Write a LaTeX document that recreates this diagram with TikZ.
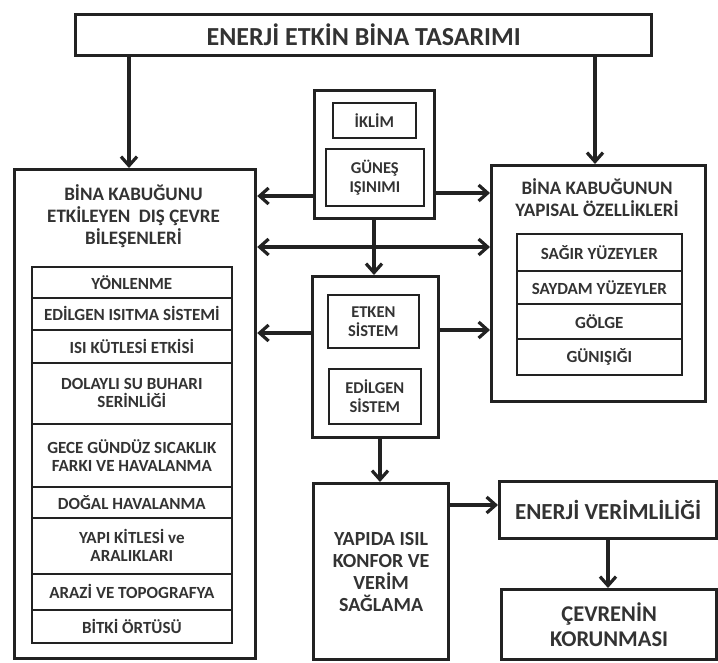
\documentclass[tikz,border=0pt]{standalone}
\usepackage{fontspec}
\setmainfont{Carlito}
\usetikzlibrary{arrows.meta}
\definecolor{ink}{HTML}{222222}
\definecolor{txt}{HTML}{333333}

% box placed by its top-left and bottom-right corners (in px units)
\newcommand{\placebox}[7]{%
  \node[#1, anchor=north west, minimum width={(#5-#3)*1pt},
        minimum height={(#6-#4)*1pt}] (#2) at (#3,#4) {#7};}

\begin{document}
\begin{tikzpicture}[x=1pt,y=-1pt,
  outerbox/.style={draw=ink, line width=3.2pt, inner sep=0pt, align=center, text=txt},
  innerbox/.style={draw=ink, line width=1.7pt, inner sep=0pt, align=center, text=txt,
                   font=\bfseries\fontsize{16.5}{19}\selectfont},
  rowbox/.style={innerbox, font=\bfseries\fontsize{17}{18}\selectfont},
  headtext/.style={align=center, text=txt, inner sep=0pt,
                   font=\bfseries\fontsize{19}{22}\selectfont},
  tip/.tip={Straight Barb[length=9pt,width=16pt]},
  conn/.style={draw=ink, line width=3.2pt, -tip},
  twoway/.style={draw=ink, line width=3.2pt, tip-tip}
]
\fill[white] (0,0) rectangle (718,662);
\useasboundingbox (0,0) rectangle (718,662);

% title
\placebox{outerbox, font=\bfseries\fontsize{26}{30}\selectfont}{top}{74}{13}{650}{54}{ENERJİ ETKİN BİNA TASARIMI}

% left column: outer environment components
\placebox{outerbox}{left}{13}{168}{254}{657}{}
\node[headtext] (lefthead) at (133.5,216) {BİNA KABUĞUNU\\ETKİLEYEN\ \ DIŞ ÇEVRE\\BİLEŞENLERİ};
\placebox{rowbox}{r1}{31}{266}{231}{297}{YÖNLENME}
\placebox{rowbox}{r2}{31}{297}{231}{329}{EDİLGEN ISITMA SİSTEMİ}
\placebox{rowbox}{r3}{31}{329}{231}{362}{ISI KÜTLESİ ETKİSİ}
\placebox{rowbox}{r4}{31}{362}{231}{423}{DOLAYLI SU BUHARI\\SERİNLİĞİ}
\placebox{rowbox}{r5}{31}{423}{231}{486}{GECE GÜNDÜZ SICAKLIK\\FARKI VE HAVALANMA}
\placebox{rowbox}{r6}{31}{486}{231}{517}{DOĞAL HAVALANMA}
\placebox{rowbox}{r7}{31}{517}{231}{573}{YAPI KİTLESİ ve\\ARALIKLARI}
\placebox{rowbox}{r8}{31}{573}{231}{609}{ARAZİ VE TOPOGRAFYA}
\placebox{rowbox}{r9}{31}{609}{231}{642}{BİTKİ ÖRTÜSÜ}

% middle column: climate and systems
\placebox{outerbox}{mid1}{313}{89}{433}{217}{}
\placebox{innerbox}{iklim}{332}{102}{415}{137}{İKLİM}
\placebox{innerbox}{gunes}{325}{148}{423}{205}{GÜNEŞ\\IŞINIMI}
\placebox{outerbox}{mid2}{311}{275}{437}{436}{}
\placebox{innerbox}{etken}{327}{294}{418}{347}{ETKEN\\SİSTEM}
\placebox{innerbox}{edilgen}{328}{368}{420}{423}{EDİLGEN\\SİSTEM}

% right column: structural properties of the envelope
\placebox{outerbox}{right}{490}{164}{704}{400}{}
\node[headtext] (righthead) at (597,198) {BİNA KABUĞUNUN\\YAPISAL ÖZELLİKLERİ};
\placebox{rowbox}{s1}{516}{233}{681}{270}{SAĞIR YÜZEYLER}
\placebox{rowbox}{s2}{516}{270}{681}{303}{SAYDAM YÜZEYLER}
\placebox{rowbox}{s3}{516}{303}{681}{338}{GÖLGE}
\placebox{rowbox}{s4}{516}{338}{681}{374}{GÜNIŞIĞI}

% outcomes
\placebox{outerbox, font=\bfseries\fontsize{20}{22}\selectfont}{konfor}{312}{482}{447}{658}{YAPIDA ISIL\\KONFOR VE\\VERİM\\SAĞLAMA}
\placebox{outerbox, font=\bfseries\fontsize{23}{27}\selectfont}{verim}{498}{480}{715}{537}{ENERJİ VERİMLİLİĞİ}
\placebox{outerbox, font=\bfseries\fontsize{22.5}{24.5}\selectfont}{cevre}{500}{588}{715}{658}{ÇEVRENİN\\KORUNMASI}

% connectors
\draw[conn] (top.south -| 129,0) -- (left.north -| 129,0);
\draw[conn] (top.south -| 595,0) -- (right.north -| 595,0);
\draw[conn] (mid1.west |- 0,196) -- (left.east |- 0,196);
\draw[conn] (mid1.east |- 0,193) -- (right.west |- 0,193);
\draw[twoway] (left.east |- 0,247) -- (right.west |- 0,247);
\draw[conn] (mid1.south -| 374,0) -- (mid2.north -| 374,0);
\draw[conn] (mid2.west |- 0,333) -- (left.east |- 0,333);
\draw[conn] (mid2.east |- 0,330) -- (right.west |- 0,330);
\draw[conn] (mid2.south -| 380,0) -- (konfor.north -| 380,0);
\draw[conn] (konfor.east |- 0,505) -- (verim.west |- 0,505);
\draw[conn] (verim.south -| 608,0) -- (cevre.north -| 608,0);
\end{tikzpicture}
\end{document}
